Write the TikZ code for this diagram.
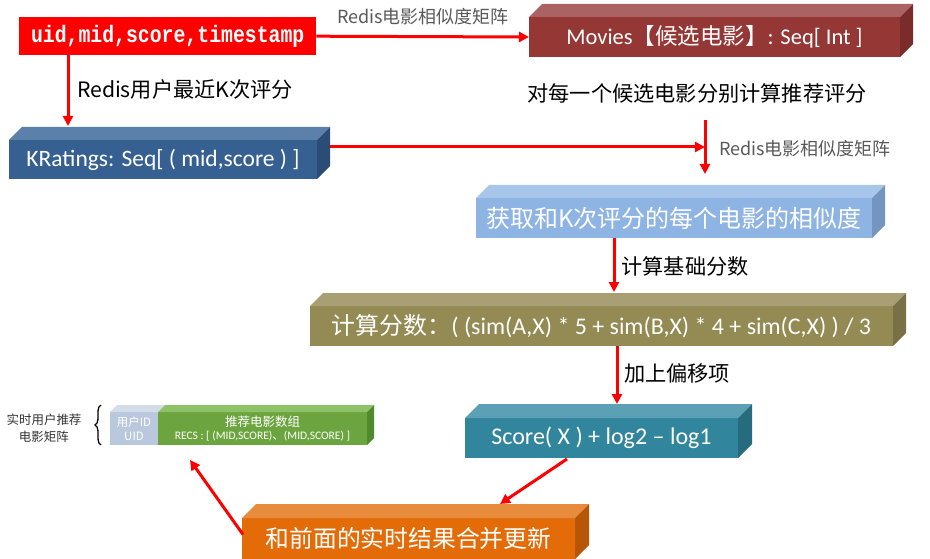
\documentclass[tikz,border=0pt]{standalone}
\usepackage{fontspec}
\setmainfont{Carlito}
\newfontfamily\cjk{Noto Sans CJK SC}
\newfontfamily\slab{Liberation Mono}
\usetikzlibrary{arrows.meta,calc,decorations.pathreplacing}
\definecolor{mvF}{HTML}{953735}\definecolor{mvT}{HTML}{AA6362}\definecolor{mvS}{HTML}{7A2C2A}
\definecolor{krF}{HTML}{376092}\definecolor{krT}{HTML}{5B80AA}\definecolor{krS}{HTML}{2B4C74}
\definecolor{smF}{HTML}{8EB4E3}\definecolor{smT}{HTML}{A8C6EA}\definecolor{smS}{HTML}{7395C0}
\definecolor{fmF}{HTML}{948A54}\definecolor{fmT}{HTML}{A89F74}\definecolor{fmS}{HTML}{797045}
\definecolor{scF}{HTML}{31859C}\definecolor{scT}{HTML}{5CA0B5}\definecolor{scS}{HTML}{276B7E}
\definecolor{orF}{HTML}{E36C09}\definecolor{orT}{HTML}{E88B3D}\definecolor{orS}{HTML}{B85608}
\definecolor{grF}{HTML}{6CA53F}\definecolor{grT}{HTML}{8FC266}\definecolor{grS}{HTML}{4F8A2B}
\definecolor{uidF}{HTML}{B9C8DD}\definecolor{uidT}{HTML}{D3DDEA}
\definecolor{lblgray}{HTML}{595959}
\newcommand\boxthree[8]{%
  \node[cubeface, fill=#7F, minimum width={(#4)-(#2)}, minimum height={(#5)-(#3)}, anchor=north west] (#1) at (#2,#3) {#8};
  \fill[#7T] (#1.north west) -- ++(#6,-#6) -- ($(#1.north east)+(#6,-#6)$) -- (#1.north east) -- cycle;
  \fill[#7S] (#1.north east) -- ($(#1.north east)+(#6,-#6)$) -- ($(#1.south east)+(#6,-#6)$) -- (#1.south east) -- cycle;
}
\begin{document}
\begin{tikzpicture}[x=1pt,y=-1pt,
  cubeface/.style={inner sep=0pt, outer sep=0pt, text=white, align=center},
  arr/.style={draw=red, line width=3pt, -{Triangle[length=10pt,width=10pt]}},
  lbl/.style={inner sep=0pt, font=\cjk\fontsize{21.2}{24}\selectfont}]
\useasboundingbox (0,0) rectangle (930,559);
% source
\node[fill=red, text=white, inner sep=0pt, minimum width=297pt, minimum height=38pt, anchor=north west,
  font=\slab\bfseries\fontsize{19.8}{22}\selectfont] (src) at (19,17) {\scalebox{1}[1.2]{uid,mid,score,timestamp}};
% boxes
\boxthree{mv}{529}{17}{900}{57}{13}{mv}{\fontsize{22.5}{26}\selectfont Movies{\cjk 【候选电影】}: Seq[ Int ]}
\boxthree{kr}{9}{140}{317}{179}{13}{kr}{\fontsize{23.5}{26}\selectfont KRatings: Seq[ ( mid,score ) ]}
\boxthree{sm}{476}{198}{872}{238}{13}{sm}{\cjk\fontsize{24}{27}\selectfont 获取和K次评分的每个电影的相似度}
\boxthree{fm}{310}{306}{893}{346}{13}{fm}{\fontsize{23.9}{26}\selectfont{\cjk 计算分数：}( (sim(A,X) * 5 + sim(B,X) * 4 + sim(C,X) ) / 3}
\boxthree{sc}{465}{418}{738}{458}{14}{sc}{\fontsize{24}{26}\selectfont Score( X ) + log2 -- log1}
\boxthree{or}{242}{518}{575}{559}{14}{or}{\cjk\fontsize{23.8}{27}\selectfont 和前面的实时结果合并更新}
% small table
\node[cubeface, fill=uidF, minimum width=48pt, minimum height=33pt, anchor=north west,
  font=\cjk\fontsize{11.5}{14}\selectfont] (uid) at (110,412) {用户ID\\UID};
\fill[uidT] (uid.north west) -- ++(7,-7) -- ($(uid.north east)+(7,-7)$) -- (uid.north east) -- cycle;
\boxthree{gr}{158}{412}{367}{445}{7}{gr}{{\cjk\fontsize{12.5}{15}\selectfont 推荐电影数组}\\[1pt]{\fontsize{11.5}{13}\selectfont RECS : [ (MID,SCORE){\cjk 、}(MID,SCORE) ]}}
\node[inner sep=0pt, align=center, text=black!80, font=\cjk\fontsize{12.5}{17}\selectfont] (tbl) at (44,428) {实时用户推荐\\电影矩阵};
\draw[line width=1.3pt, decorate, decoration={brace, amplitude=6pt}] (101,445) -- (101,405);
% labels
\node[lbl, text=lblgray, font=\cjk\fontsize{18}{20}\selectfont] (l1) at (423,17) {Redis电影相似度矩阵};
\node[lbl] (l2) at (185,89) {Redis用户最近K次评分};
\node[lbl] (l3) at (697,93) {对每一个候选电影分别计算推荐评分};
\node[lbl, text=lblgray, font=\cjk\fontsize{18}{20}\selectfont] (l4) at (805,149) {Redis电影相似度矩阵};
\node[lbl] (l5) at (685,266) {计算基础分数};
\node[lbl] (l6) at (677,373) {加上偏移项};
% connectors
\coordinate (j0) at (705,120);
\coordinate (j1) at (705,147);
\coordinate (j2) at (705,174);
\coordinate (tend) at (190,460);
\draw[arr] (src.east) -- (mv.west);
\draw[arr] ($(src.south west)+(49,0)$) -- ($(kr.north west)+(59,-14)$);
\draw[arr] ($(kr.east |- j1)+(13,0)$) -- (j1);
\draw[arr] (j0) -- (j2);
\draw[arr] ($(sm.south west)+(138,0)$) -- ($(fm.north west)+(304,-14)$);
\draw[arr] ($(fm.south west)+(307,0)$) -- ($(sc.north west)+(152,-14)$);
\draw[arr] ($(sc.south west)+(102,1)$) -- ($(or.north west)+(258,-14)$);
\draw[arr] ($(or.west)+(1,-4)$) -- (tend);
\end{tikzpicture}
\end{document}
